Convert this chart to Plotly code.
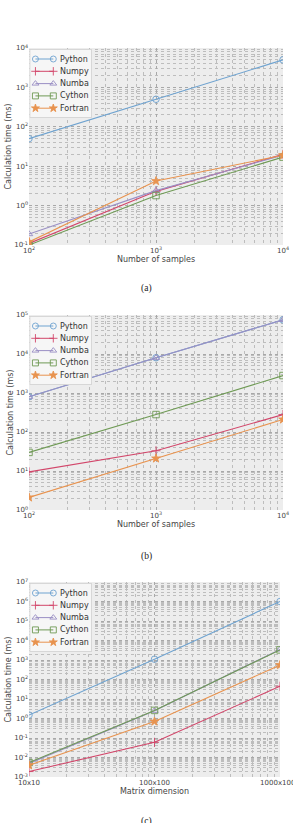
import plotly.graph_objects as go

names = ["Python", "Numpy", "Numba", "Cython", "Fortran"]
colors = ["#6fa3d0", "#d2466a", "#9a8fc4", "#6f9a55", "#e8934f"]
symbols = ["circle-open", "cross-thin-open", "triangle-up-open", "square-open", "star"]

# (a)
xa = [100, 1000, 10000]
ya = {
    "Python": [50, 500, 5000],
    "Numpy": [0.11, 2.3, 20],
    "Numba": [0.19, 2.4, 19],
    "Cython": [0.10, 1.8, 17],
    "Fortran": [0.12, 4.2, 19],
}
# (b)
xb = [100, 1000, 10000]
yb = {
    "Python": [800, 8000, 75000],
    "Numpy": [9.5, 33, 280],
    "Numba": [800, 8000, 75000],
    "Cython": [30, 280, 2800],
    "Fortran": [2.1, 21, 210],
}
# (c)
xc = [10, 100, 1000]
xc_labels = ["10x10", "100x100", "1000x1000"]
yc = {
    "Python": [1.5, 1100, 1.0e6],
    "Numpy": [0.0019, 0.06, 45],
    "Numba": [0.005, 2.5, 3500],
    "Cython": [0.0055, 2.6, 3300],
    "Fortran": [0.004, 0.7, 550],
}

H = 823.0
W = 293.0
panels = [
    dict(x=xa, y=ya, top=48, bot=245, left=29, right=283, yr=(-1, 4), xr=(2, 4), xt="Number of samples", cap="(a)", capy=288),
    dict(x=xb, y=yb, top=315, bot=510, left=29, right=283, yr=(0, 5), xr=(2, 4), xt="Number of samples", cap="(b)", capy=556),
    dict(x=xc, y=yc, top=582, bot=777, left=29, right=280, yr=(-3, 7), xr=(1, 3), xt="Matrix dimension", cap="(c)", capy=821),
]


def sup(e):
    return "10<sup>%d</sup>" % e


def minor_vals(r):
    return [m * 10 ** e for e in range(r[0], r[1]) for m in range(2, 10)]


fig = go.Figure()
layout = {}
annotations = []
font_tick = dict(family="DejaVu Sans", size=7, color="#444")
font_title = dict(family="DejaVu Sans", size=8, color="#444")
msize = [6.5, 6.5, 6.5, 6.5, 6.5]

for i, p in enumerate(panels):
    n = i + 1
    xs = "" if n == 1 else str(n)
    for k, nm in enumerate(names):
        fig.add_trace(go.Scatter(
            x=p["x"], y=p["y"][nm], name=nm, mode="lines+markers", showlegend=False,
            line=dict(color=colors[k], width=1.1),
            marker=dict(symbol=symbols[k], size=msize[k], color=colors[k],
                        line=dict(color=colors[k], width=0.9)),
            xaxis="x" + xs, yaxis="y" + xs,
        ))
    yd = [1 - p["bot"] / H, 1 - p["top"] / H]
    xd = [p["left"] / W, p["right"] / W]
    common = dict(
        type="log", showline=False, zeroline=False, automargin=False,
        showgrid=True, gridcolor="#a8a8a8", griddash="dot", gridwidth=1,
        tickfont=font_tick, ticks="", ticklabeloverflow="allow",
    )
    if n == 3:
        xtv, xtt = p["x"], xc_labels
    else:
        xtv = [10 ** e for e in range(p["xr"][0], p["xr"][1] + 1)]
        xtt = [sup(e) for e in range(p["xr"][0], p["xr"][1] + 1)]
    ytv = [10 ** e for e in range(p["yr"][0], p["yr"][1] + 1)]
    ytt = [sup(e) for e in range(p["yr"][0], p["yr"][1] + 1)]
    xax = dict(common, domain=xd, range=list(p["xr"]), anchor="y" + xs,
               tickmode="array", tickvals=xtv, ticktext=xtt,
               minor=dict(tickmode="array", tickvals=minor_vals(p["xr"]), showgrid=True,
                          gridcolor="#bdbdbd", griddash="dot", gridwidth=1, ticks=""),
               title=dict(text=p["xt"], font=font_title, standoff=2))
    yax = dict(common, domain=yd, range=list(p["yr"]), anchor="x" + xs,
               tickmode="array", tickvals=ytv, ticktext=ytt,
               minor=dict(tickmode="array", tickvals=minor_vals(p["yr"]), showgrid=True,
                          gridcolor="#bdbdbd", griddash="dot", gridwidth=1, ticks=""),
               title=dict(text="Calculation time (ms)", font=font_title, standoff=1))
    layout["xaxis" + xs] = xax
    layout["yaxis" + xs] = yax

    # legend box drawn on its own small inset axes
    ln = str(n + 3)
    lx0, lx1 = p["left"] + 0.5, p["left"] + 63
    ly0, ly1 = p["top"] + 1, p["top"] + 70
    layout["xaxis" + ln] = dict(domain=[lx0 / W, lx1 / W], range=[0, 63], visible=False,
                                anchor="y" + ln, fixedrange=True, automargin=False)
    layout["yaxis" + ln] = dict(domain=[1 - ly1 / H, 1 - ly0 / H], range=[69, 0], visible=False,
                                anchor="x" + ln, fixedrange=True, automargin=False)
    fig.add_trace(go.Scatter(
        x=[0.3, 62.7, 62.7, 0.3, 0.3], y=[0.3, 0.3, 68.7, 68.7, 0.3], mode="lines", fill="toself",
        fillcolor="rgba(246,246,246,0.93)", line=dict(color="#d0d0d0", width=1),
        showlegend=False, hoverinfo="skip", xaxis="x" + ln, yaxis="y" + ln,
    ))
    for k, nm in enumerate(names):
        yy = 10 + 12.3 * k
        fig.add_trace(go.Scatter(
            x=[6, 24], y=[yy, yy], mode="lines+markers", showlegend=False, hoverinfo="skip",
            line=dict(color=colors[k], width=1),
            marker=dict(symbol=symbols[k], size=6, color=colors[k], line=dict(color=colors[k], width=0.9)),
            xaxis="x" + ln, yaxis="y" + ln, cliponaxis=False,
        ))
        annotations.append(dict(text=nm, x=29, y=yy, xref="x" + ln, yref="y" + ln,
                                showarrow=False, xanchor="left", yanchor="middle",
                                font=dict(family="DejaVu Sans", size=8, color="#333")))
    annotations.append(dict(text=p["cap"], x=0.5, y=1 - p["capy"] / H, xref="paper", yref="paper",
                            showarrow=False, xanchor="center", yanchor="middle",
                            font=dict(family="Liberation Serif", size=9.5, color="#222")))

fig.update_layout(
    template="none",
    width=293, height=823, margin=dict(l=0, r=0, t=0, b=0, autoexpand=False),
    paper_bgcolor="white", plot_bgcolor="#ededed",
    showlegend=False, annotations=annotations, **layout,
)
fig.write_html("out.html")
